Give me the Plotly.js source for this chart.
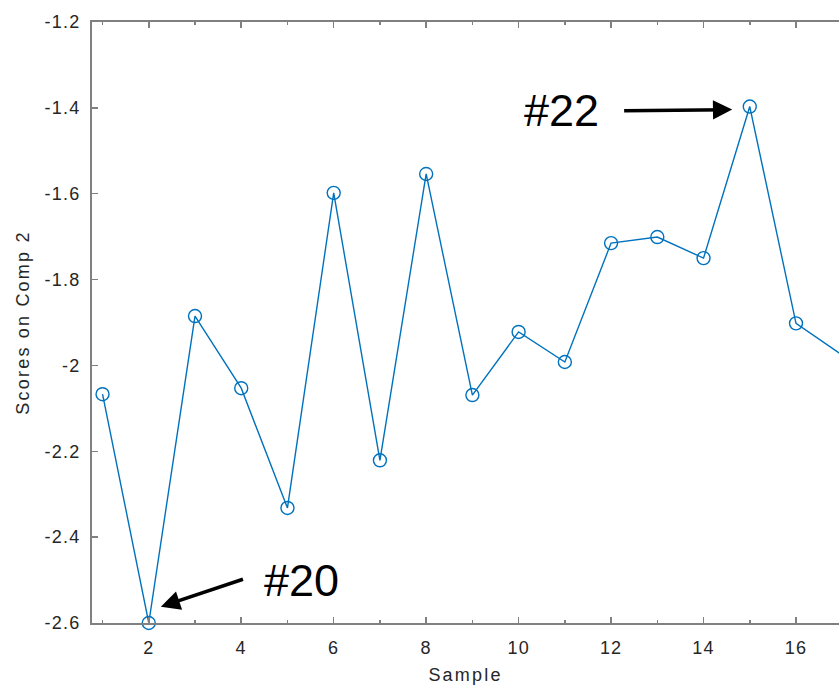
<!DOCTYPE html>
<html>
<head>
<meta charset="utf-8">
<script src="https://cdn.plot.ly/plotly-3.0.1.min.js"></script>
<style>
html, body { margin: 0; padding: 0; overflow: hidden; background: #fff; }
#chart { width: 839px; height: 688px; }
.xtick text, .ytick text { letter-spacing: 1.2px; }
.g-xtitle text, .g-ytitle text { letter-spacing: 2.2px; }
</style>
</head>
<body>
<div id="chart"></div>
<script>
// Data
const samples = [1, 2, 3, 4, 5, 6, 7, 8, 9, 10, 11, 12, 13, 14, 15, 16, 17];
const scores = [-2.067, -2.600, -1.885, -2.053, -2.332, -1.598, -2.221, -1.554, -2.069,
                -1.922, -1.992, -1.715, -1.701, -1.750, -1.397, -1.902, -1.976];
const yTickVals = [-2.6, -2.4, -2.2, -2.0, -1.8, -1.6, -1.4, -1.2];
const yTickText = ['-2.6', '-2.4', '-2.2', '-2', '-1.8', '-1.6', '-1.4', '-1.2'];
const xTickVals = [2, 4, 6, 8, 10, 12, 14, 16];
const xTickText = ['2', '4', '6', '8', '10', '12', '14', '16'];
// Callouts: label, label position, arrow tail, arrow tip (data units)
const callLabels = ['#22', '#20'];
const callTextX = [10.92, 5.30];
const callTextY = [-1.405, -2.50];
const callTailX = [12.25, 4.07];
const callTailY = [-1.407, -2.497];
const callTipX = [14.62, 2.26];
const callTipY = [-1.404, -2.562];

const lineBlue = '#0072BD';
const axisGray = '#808080';
const textDark = '#262626';
const fontFam = '"Liberation Sans", Arial, Helvetica, sans-serif';

const trace = {
  x: samples,
  y: scores,
  type: 'scatter',
  mode: 'lines+markers',
  line: { color: lineBlue, width: 1.4 },
  marker: { symbol: 'circle-open', size: 13, color: lineBlue, line: { width: 1.4, color: lineBlue } },
  cliponaxis: false,
  hoverinfo: 'skip'
};

const annotations = [];
for (let i = 0; i < callLabels.length; i++) {
  annotations.push({
    x: callTextX[i], y: callTextY[i], xref: 'x', yref: 'y',
    text: callLabels[i], showarrow: false,
    font: { family: fontFam, size: 45, color: '#000' },
    xanchor: 'center', yanchor: 'middle'
  });
  annotations.push({
    x: callTipX[i], y: callTipY[i], xref: 'x', yref: 'y',
    ax: callTailX[i], ay: callTailY[i], axref: 'x', ayref: 'y',
    text: '', showarrow: true, arrowhead: 2, arrowsize: 1.1, arrowwidth: 3.5,
    arrowcolor: '#000', standoff: 0, startstandoff: 0
  });
}

const layout = {
  width: 839,
  height: 688,
  margin: { l: 92, r: 0, t: 22, b: 65, pad: 0 },
  paper_bgcolor: '#fff',
  plot_bgcolor: '#fff',
  showlegend: false,
  font: { family: fontFam, color: textDark },
  xaxis: {
    range: [0.772, 16.93],
    tickmode: 'array', tickvals: xTickVals, ticktext: xTickText,
    ticks: 'inside', ticklen: 6, tickwidth: 1.5, tickcolor: axisGray,
    minor: { dtick: 1, tick0: 1, ticks: 'inside', ticklen: 3, tickwidth: 1.5, tickcolor: axisGray, showgrid: false },
    showline: true, linecolor: axisGray, linewidth: 2, mirror: 'ticks',
    showgrid: false, zeroline: false,
    tickfont: { family: fontFam, size: 18, color: textDark },
    ticklabelstandoff: 7,
    title: { text: 'Sample', font: { family: fontFam, size: 18, color: textDark }, standoff: 12 }
  },
  yaxis: {
    range: [-2.6, -1.2],
    tickmode: 'array', tickvals: yTickVals, ticktext: yTickText,
    ticks: 'inside', ticklen: 6, tickwidth: 1.5, tickcolor: axisGray,
    showline: true, linecolor: axisGray, linewidth: 2, mirror: false,
    showgrid: false, zeroline: false,
    tickfont: { family: fontFam, size: 18, color: textDark },
    ticklabelstandoff: 6,
    title: { text: 'Scores on Comp 2', font: { family: fontFam, size: 18, color: textDark }, standoff: 10 }
  },
  annotations: annotations
};

Plotly.newPlot('chart', [trace], layout, { staticPlot: true, displayModeBar: false });
</script>
</body>
</html>
